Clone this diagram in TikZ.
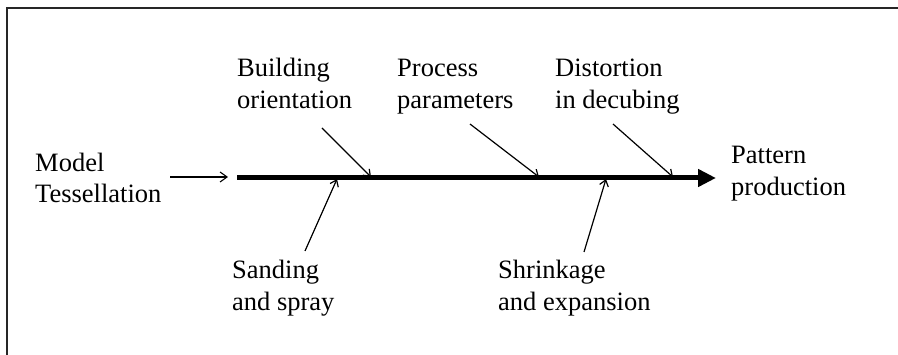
\documentclass[tikz,border=0pt]{standalone}
\usepackage{fontspec}
\setmainfont{Liberation Serif}
\usetikzlibrary{arrows.meta}
\begin{document}
\begin{tikzpicture}[x=1pt,y=-1pt,
  lbl/.style={anchor=base west,inner sep=0pt,font=\fontsize{26.5}{31.5}\selectfont},
  frameline/.style={line width=1.4pt,draw=black!85},
  spine/.style={line width=5pt,-{Triangle[length=18pt,width=17pt]}},
  cause/.style={line width=1.2pt,-{Straight Barb[length=6pt,width=9pt,line width=1.2pt]}},
  feed/.style={line width=1.1pt,-{Straight Barb[length=7pt,width=10pt,line width=1.1pt]}}]
\useasboundingbox (0,0) rectangle (898,355);
% frame (top and left only)
\coordinate (ftl) at (7,8);
\coordinate (ftr) at (898,8);
\coordinate (fbl) at (7,355);
\draw[frameline] (ftr) -- (ftl) -- (fbl);
% labels
\node[lbl] (model) at (35,171.5) {\begin{tabular}[t]{@{}l@{}}Model\\Tessellation\end{tabular}};
\node[lbl] (build) at (237,77) {\begin{tabular}[t]{@{}l@{}}Building\\orientation\end{tabular}};
\node[lbl] (proc) at (397,77) {\begin{tabular}[t]{@{}l@{}}Process\\parameters\end{tabular}};
\node[lbl] (dist) at (555,77) {\begin{tabular}[t]{@{}l@{}}Distortion\\in decubing\end{tabular}};
\node[lbl] (patt) at (731,164) {\begin{tabular}[t]{@{}l@{}}Pattern\\production\end{tabular}};
\node[lbl] (sand) at (232,279) {\begin{tabular}[t]{@{}l@{}}Sanding\\and spray\end{tabular}};
\node[lbl] (shrk) at (498,279) {\begin{tabular}[t]{@{}l@{}}Shrinkage\\and expansion\end{tabular}};
% spine
\coordinate (s0) at (237,178);
\coordinate (s1) at (716,178);
\draw[spine] (s0) -- (s1);
% model arrow
\coordinate (m0) at (170,177);
\coordinate (m1) at (228,177);
\draw[feed] (m0) -- (m1);
% causes
\coordinate (b0) at (322,128); \coordinate (b1) at (371,177);
\coordinate (p0) at (470,124); \coordinate (p1) at (539,177);
\coordinate (d0) at (613,124); \coordinate (d1) at (673,177);
\coordinate (a0) at (305,251); \coordinate (a1) at (337,179);
\coordinate (k0) at (584,252); \coordinate (k1) at (606,179);
\draw[cause] (b0) -- (b1);
\draw[cause] (p0) -- (p1);
\draw[cause] (d0) -- (d1);
\draw[cause] (a0) -- (a1);
\draw[cause] (k0) -- (k1);
\end{tikzpicture}
\end{document}
